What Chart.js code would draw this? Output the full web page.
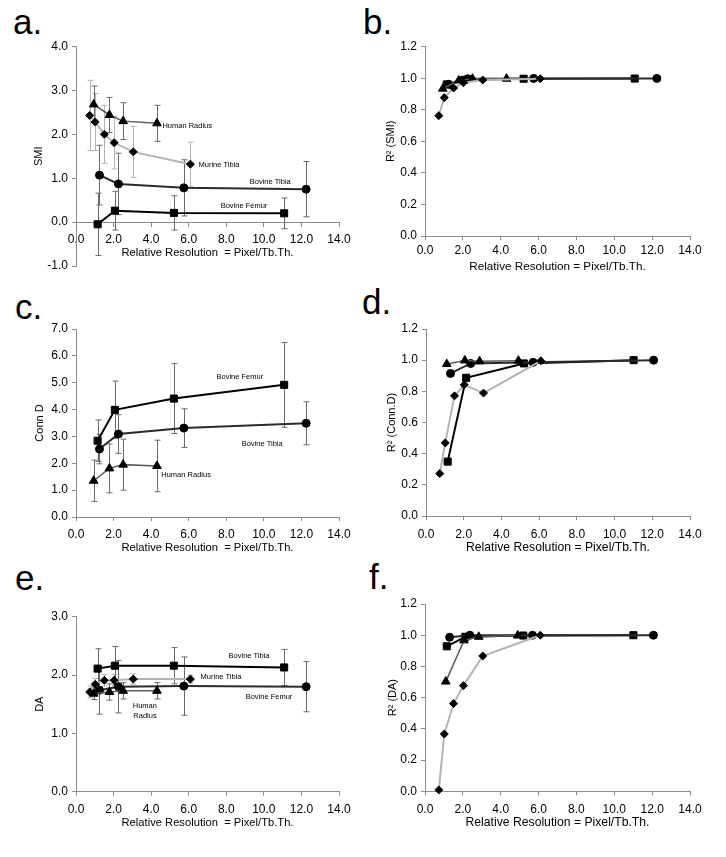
<!DOCTYPE html>
<html>
<head>
<meta charset="utf-8">
<script src="https://cdn.jsdelivr.net/npm/chart.js@4.4.0/dist/chart.umd.min.js"></script>
<style>
  body { margin: 0; background: #fff; width: 726px; height: 857px; position: relative; overflow: hidden;
         font-family: "Liberation Sans", Arial, sans-serif; }
  canvas { position: absolute; }
  .tag { position: absolute; font-size: 35px; line-height: 35px; color: #000; }
</style>
</head>
<body>
<div class="tag" style="left:13px;top:4px">a.</div>
<div class="tag" style="left:363px;top:4px">b.</div>
<div class="tag" style="left:15px;top:289px">c.</div>
<div class="tag" style="left:362px;top:284px">d.</div>
<div class="tag" style="left:15px;top:560px">e.</div>
<div class="tag" style="left:369px;top:559px">f.</div>

<canvas id="chartA" width="363" height="285" style="left:0;top:0"></canvas>
<canvas id="chartB" width="363" height="285" style="left:363px;top:0"></canvas>
<canvas id="chartC" width="363" height="285" style="left:0;top:285px"></canvas>
<canvas id="chartD" width="363" height="285" style="left:363px;top:285px"></canvas>
<canvas id="chartE" width="363" height="287" style="left:0;top:570px"></canvas>
<canvas id="chartF" width="363" height="287" style="left:363px;top:570px"></canvas>

<script>
// relative resolution (pixel / Tb.Th.) for each sample
const murineX = [0.73, 1.02, 1.51, 2.03, 3.05, 6.09];
const humanX = [0.94, 1.78, 2.51, 4.31];
const tibiaX = [1.25, 2.26, 5.74, 12.25];
const femurX = [1.15, 2.07, 5.21, 11.08];
// d. and f. use slightly shifted resolutions for the human / bovine sets
const humanX2 = [1.1, 2.06, 2.84, 4.9];
const tibiaX2 = [1.3, 2.37, 5.68, 12.07];
const femurX2 = [1.15, 2.13, 5.19, 11.01];

// a. SMI, mean and sd
const smiMurine = [2.43, 2.28, 2.00, 1.81, 1.60, 1.32];
const smiMurineSd = [0.80, 0.65, 0.66, 0.60, 0.58, 0.50];
const smiHuman = [2.68, 2.44, 2.30, 2.25];
const smiHumanSd = [0.42, 0.40, 0.42, 0.41];
const smiTibia = [1.07, 0.87, 0.78, 0.75];
const smiTibiaSd = [0.68, 0.70, 0.64, 0.63];
const smiFemur = [-0.05, 0.26, 0.21, 0.20];
const smiFemurSd = [0.71, 0.44, 0.39, 0.35];

// b. R2 (SMI)
const r2SmiMurine = [0.763, 0.877, 0.938, 0.972, 0.989, 0.997];
const r2SmiHuman = [0.934, 0.986, 0.997, 0.997];
const r2SmiTibia = [0.962, 0.997, 0.999, 0.999];
const r2SmiFemur = [0.961, 0.990, 0.997, 0.998];

// c. Conn D, mean and sd
const connFemur = [2.84, 3.99, 4.41, 4.92];
const connFemurSd = [0.77, 1.07, 1.30, 1.58];
const connTibia = [2.53, 3.09, 3.31, 3.49];
const connTibiaSd = [0.55, 0.72, 0.72, 0.80];
const connHuman = [1.35, 1.81, 1.95, 1.90];
const connHumanSd = [0.77, 0.91, 0.95, 0.96];

// d. R2 (Conn.D)
const r2ConnMurine = [0.272, 0.469, 0.771, 0.842, 0.789, 0.996];
const r2ConnHuman = [0.975, 0.998, 0.993, 0.997];
const r2ConnTibia = [0.915, 0.979, 0.986, 1.0];
const r2ConnFemur = [0.349, 0.887, 0.979, 1.0];

// e. DA, mean and sd
const daFemur = [2.11, 2.16, 2.16, 2.13];
const daFemurSd = [0.34, 0.33, 0.31, 0.31];
const daTibia = [1.74, 1.80, 1.81, 1.80];
const daTibiaSd = [0.41, 0.45, 0.50, 0.43];
const daMurine = [1.71, 1.84, 1.91, 1.91, 1.93, 1.93];
const daMurineSd = [0.10, 0.10, 0.10, 0.10, 0.09, 0.07];
const daHuman = [1.68, 1.71, 1.73, 1.73];
const daHumanSd = [0.10, 0.14, 0.14, 0.14];

// f. R2 (DA)
const r2DaMurine = [0.009, 0.367, 0.562, 0.677, 0.867, 1.0];
const r2DaHuman = [0.703, 0.967, 0.990, 0.998];
const r2DaTibia = [0.987, 1.0, 1.0, 1.0];
const r2DaFemur = [0.929, 0.990, 0.998, 1.0];

const xTickValues = [0, 2, 4, 6, 8, 10, 12, 14];

Chart.defaults.font.family = '"Liberation Sans", Arial, sans-serif';
Chart.defaults.color = '#000';

const AXIS = '#8c8c8c';

const styles = {
  murine: { line: '#b4b4b4', width: 2, shape: 'rectRot', r: 4, err: '#b4b4b4' },
  human: { line: '#5a5a5a', width: 1.5, shape: 'triangle', r: 5, err: '#6a6a6a' },
  tibia: { line: '#2b2b2b', width: 2, shape: 'circle', r: 4, err: '#6a6a6a' },
  femur: { line: '#000000', width: 2, shape: 'rect', r: 5, err: '#6a6a6a' },
};

function series(kind, label, xs, ys, sd) {
  const s = styles[kind];
  return {
    label: label,
    data: xs.map((x, i) => ({ x: x, y: ys[i] })),
    errors: sd || null,
    errColor: s.err,
    showLine: true,
    borderColor: s.line,
    borderWidth: s.width,
    pointStyle: s.shape,
    pointRadius: s.r,
    pointBackgroundColor: '#000',
    pointBorderColor: '#000',
    pointBorderWidth: 1,
    tension: 0,
    clip: false,
  };
}

// vertical sd bars with small caps, drawn under the lines
const errorBars = {
  id: 'errorBars',
  beforeDatasetsDraw(chart) {
    const { ctx, scales: { x, y } } = chart;
    chart.data.datasets.forEach((ds) => {
      if (!ds.errors) return;
      ctx.save();
      ctx.strokeStyle = ds.errColor;
      ctx.lineWidth = 1;
      ds.data.forEach((p, i) => {
        const px = Math.round(x.getPixelForValue(p.x)) + 0.5;
        const top = y.getPixelForValue(p.y + ds.errors[i]);
        const bot = y.getPixelForValue(p.y - ds.errors[i]);
        ctx.beginPath();
        ctx.moveTo(px, top); ctx.lineTo(px, bot);
        ctx.moveTo(px - 3, top); ctx.lineTo(px + 3, top);
        ctx.moveTo(px - 3, bot); ctx.lineTo(px + 3, bot);
        ctx.stroke();
      });
      ctx.restore();
    });
  }
};

// small series names written next to the curves
const notes = {
  id: 'notes',
  afterDatasetsDraw(chart, args, opts) {
    if (!opts.items) return;
    const { ctx, scales: { x, y } } = chart;
    ctx.save();
    ctx.fillStyle = '#000';
    ctx.font = '7.5px "Liberation Sans", Arial, sans-serif';
    ctx.textBaseline = 'middle';
    ctx.textAlign = 'left';
    opts.items.forEach((n) => {
      ctx.fillText(n.text, x.getPixelForValue(n.x), y.getPixelForValue(n.y));
    });
    ctx.restore();
  }
};

// x title for an axis that crosses at y = 0 (panel a)
const zeroTitle = {
  id: 'zeroTitle',
  afterDraw(chart, args, opts) {
    if (!opts.text) return;
    const { ctx, chartArea, scales: { y } } = chart;
    ctx.save();
    ctx.fillStyle = '#000';
    ctx.font = opts.size + 'px "Liberation Sans", Arial, sans-serif';
    ctx.textAlign = 'center';
    ctx.textBaseline = 'middle';
    ctx.fillText(opts.text, (chartArea.left + chartArea.right) / 2, y.getPixelForValue(0) + opts.gap);
    ctx.restore();
  }
};

function makeChart(id, p) {
  const xAtZero = !!p.xAtZero;
  return new Chart(document.getElementById(id), {
    type: 'scatter',
    data: { datasets: p.datasets },
    options: {
      responsive: false,
      animation: false,
      layout: { padding: p.pad },
      plugins: {
        legend: { display: false },
        tooltip: { enabled: false },
        notes: { items: p.notes || null },
        zeroTitle: xAtZero ? { text: p.xTitle, size: p.xTitleSize, gap: p.xTitleGap } : {},
      },
      scales: {
        x: {
          type: 'linear',
          min: 0,
          max: 14,
          position: xAtZero ? { y: 0 } : 'bottom',
          afterFit: (s) => { if (p.xHeight) s.height = p.xHeight; },
          afterBuildTicks: (s) => { s.ticks = xTickValues.map((v) => ({ value: v })); },
          ticks: {
            padding: p.xTickPad,
            font: { size: 12 },
            maxRotation: 0,
            autoSkip: false,
            callback: (v) => Number(v).toFixed(1),
          },
          grid: { drawOnChartArea: false, drawTicks: true, tickLength: 4, color: AXIS },
          border: { color: AXIS, width: 1 },
          title: { display: !xAtZero, text: p.xTitle, font: { size: p.xTitleSize }, padding: 0 },
        },
        y: {
          type: 'linear',
          min: p.yMin,
          max: p.yMax,
          afterFit: (s) => { s.width = p.yWidth; },
          ticks: {
            stepSize: p.yStep,
            padding: 4,
            font: { size: 12 },
            callback: (v) => Number(v).toFixed(1),
          },
          grid: { drawOnChartArea: false, drawTicks: true, tickLength: 4, color: AXIS },
          border: { color: AXIS, width: 1 },
          title: { display: true, text: p.yTitle, font: { size: 11 }, padding: { top: p.yTitlePad, bottom: 0 } },
        },
      },
    },
    plugins: [errorBars, notes, zeroTitle],
  });
}

const TITLE_WIDE = 'Relative Resolution  = Pixel/Tb.Th.';
const TITLE = 'Relative Resolution = Pixel/Tb.Th.';

makeChart('chartA', {
  datasets: [
    series('murine', 'Murine Tibia', murineX, smiMurine, smiMurineSd),
    series('human', 'Human Radius', humanX, smiHuman, smiHumanSd),
    series('tibia', 'Bovine Tibia', tibiaX, smiTibia, smiTibiaSd),
    series('femur', 'Bovine Femur', femurX, smiFemur, smiFemurSd),
  ],
  notes: [
    { text: 'Human Radius', x: 4.6, y: 2.2 },
    { text: 'Murine Tibia', x: 6.52, y: 1.3 },
    { text: 'Bovine Tibia', x: 9.25, y: 0.91 },
    { text: 'Bovine Femur', x: 7.7, y: 0.36 },
  ],
  xAtZero: true, xTitle: TITLE_WIDE, xTitleSize: 11.2, xTitleGap: 31,
  pad: { top: 46.5, right: 24, bottom: 19, left: 0 },
  yMin: -1, yMax: 4, yStep: 1, yTitle: 'SMI', yTitlePad: 32.4,
  yWidth: 76, xTickPad: 6,
});

makeChart('chartB', {
  datasets: [
    series('murine', 'Murine Tibia', murineX, r2SmiMurine),
    series('human', 'Human Radius', humanX, r2SmiHuman),
    series('tibia', 'Bovine Tibia', tibiaX, r2SmiTibia),
    series('femur', 'Bovine Femur', femurX, r2SmiFemur),
  ],
  xTitle: TITLE, xTitleSize: 11.7, xHeight: 37.9,
  pad: { top: 46.7, right: 36, bottom: 11.1, left: 0 },
  yMin: 0, yMax: 1.2, yStep: 0.2, yTitle: 'R² (SMI)', yTitlePad: 20.9,
  yWidth: 62, xTickPad: 3,
});

makeChart('chartC', {
  datasets: [
    series('human', 'Human Radius', humanX, connHuman, connHumanSd),
    series('tibia', 'Bovine Tibia', tibiaX, connTibia, connTibiaSd),
    series('femur', 'Bovine Femur', femurX, connFemur, connFemurSd),
  ],
  notes: [
    { text: 'Bovine Femur', x: 7.48, y: 5.21 },
    { text: 'Bovine Tibia', x: 8.82, y: 2.72 },
    { text: 'Human Radius', x: 4.54, y: 1.56 },
  ],
  xTitle: TITLE_WIDE, xTitleSize: 11.2, xHeight: 37.6,
  pad: { top: 44, right: 24, bottom: 15.4, left: 0 },
  yMin: 0, yMax: 7, yStep: 1, yTitle: 'Conn D', yTitlePad: 33.4,
  yWidth: 76, xTickPad: 6,
});

makeChart('chartD', {
  datasets: [
    series('murine', 'Murine Tibia', murineX, r2ConnMurine),
    series('human', 'Human Radius', humanX2, r2ConnHuman),
    series('tibia', 'Bovine Tibia', tibiaX2, r2ConnTibia),
    series('femur', 'Bovine Femur', femurX2, r2ConnFemur),
  ],
  xTitle: TITLE, xTitleSize: 12.2, xHeight: 39.3,
  pad: { top: 44, right: 36, bottom: 14.7, left: 0 },
  yMin: 0, yMax: 1.2, yStep: 0.2, yTitle: 'R² (Conn.D)', yTitlePad: 22.7,
  yWidth: 63, xTickPad: 7,
});

makeChart('chartE', {
  datasets: [
    series('murine', 'Murine Tibia', murineX, daMurine, daMurineSd),
    series('human', 'Human Radius', humanX, daHuman, daHumanSd),
    series('tibia', 'Bovine Tibia', tibiaX, daTibia, daTibiaSd),
    series('femur', 'Bovine Femur', femurX, daFemur, daFemurSd),
  ],
  notes: [
    { text: 'Bovine Tibia', x: 8.12, y: 2.33 },
    { text: 'Murine Tibia', x: 6.63, y: 1.97 },
    { text: 'Bovine Femur', x: 9.03, y: 1.62 },
    { text: 'Human', x: 3.02, y: 1.47 },
    { text: 'Radius', x: 3.05, y: 1.30 },
  ],
  xTitle: TITLE_WIDE, xTitleSize: 11.2, xHeight: 38,
  pad: { top: 46.7, right: 24, bottom: 27.3, left: 0 },
  yMin: 0, yMax: 3, yStep: 1, yTitle: 'DA', yTitlePad: 33.4,
  yWidth: 76, xTickPad: 7,
});

makeChart('chartF', {
  datasets: [
    series('murine', 'Murine Tibia', murineX, r2DaMurine),
    series('human', 'Human Radius', humanX2, r2DaHuman),
    series('tibia', 'Bovine Tibia', tibiaX2, r2DaTibia),
    series('femur', 'Bovine Femur', femurX2, r2DaFemur),
  ],
  xTitle: TITLE, xTitleSize: 12.2, xHeight: 38.7,
  pad: { top: 34, right: 36, bottom: 27, left: 0 },
  yMin: 0, yMax: 1.2, yStep: 0.2, yTitle: 'R² (DA)', yTitlePad: 23.4,
  yWidth: 62, xTickPad: 7.5,
});
</script>
</body>
</html>
